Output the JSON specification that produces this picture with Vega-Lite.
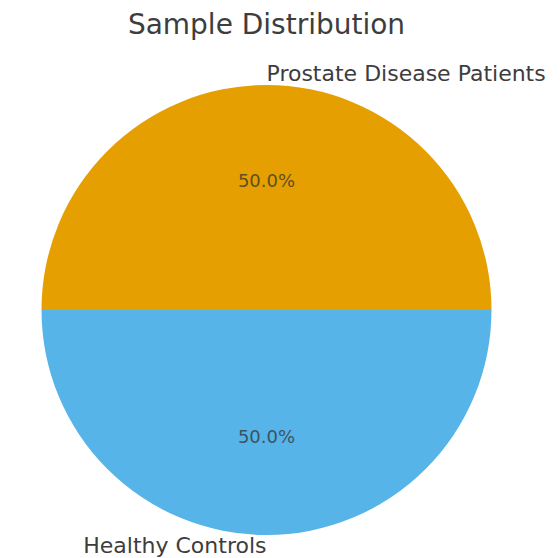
{
  "$schema": "https://vega.github.io/schema/vega-lite/v6.json",
  "width": 533,
  "height": 480,
  "autosize": "none",
  "padding": {"left": 0, "top": 70, "right": 27, "bottom": 8},
  "background": "white",
  "title": {
    "text": "Sample Distribution",
    "font": "DejaVu Sans",
    "fontSize": 28,
    "fontWeight": "normal",
    "color": "#3d3d3d",
    "anchor": "middle",
    "offset": 23
  },
  "data": {
    "values": [
      {"group": "Prostate Disease Patients", "value": 50, "idx": 1, "pct": "50.0%"},
      {"group": "Healthy Controls", "value": 50, "idx": 2, "pct": "50.0%"}
    ]
  },
  "encoding": {
    "theta": {"field": "value", "type": "quantitative", "stack": true, "scale": {"range": [-1.5708, 4.7124]}},
    "order": {"field": "idx", "type": "quantitative"}
  },
  "layer": [
    {
      "mark": {"type": "arc", "radius": 225, "stroke": null},
      "encoding": {
        "color": {"field": "group", "type": "nominal", "legend": null,
          "scale": {"domain": ["Prostate Disease Patients", "Healthy Controls"], "range": ["#E69F00", "#56B4E9"]}}
      }
    },
    {
      "mark": {"type": "text", "radius": 128, "font": "DejaVu Sans", "fontSize": 18, "color": "#333333", "opacity": 0.75},
      "encoding": {"text": {"field": "pct"}}
    },
    {
      "mark": {"type": "text", "radius": 236, "align": "left", "baseline": "middle", "font": "DejaVu Sans", "fontSize": 22, "color": "#3d3d3d"},
      "encoding": {"text": {"condition": {"test": "datum.idx == 1", "field": "group"}, "value": ""}}
    },
    {
      "mark": {"type": "text", "radius": 236, "align": "right", "baseline": "middle", "font": "DejaVu Sans", "fontSize": 22, "color": "#3d3d3d"},
      "encoding": {"text": {"condition": {"test": "datum.idx == 2", "field": "group"}, "value": ""}}
    }
  ]
}
